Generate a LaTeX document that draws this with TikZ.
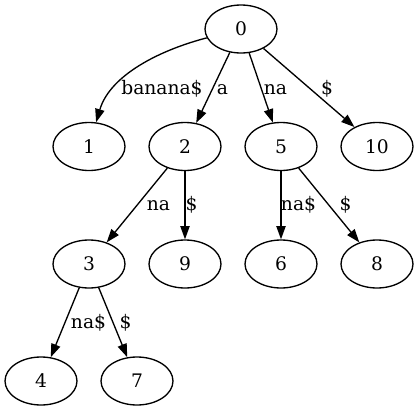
\documentclass[tikz,border=0pt]{standalone}
\usepackage{fontspec}
\setmainfont{DejaVu Serif}
\usetikzlibrary{shapes.geometric,arrows.meta}
\tikzset{
  vertex/.style={draw,ellipse,line width=1pt,minimum width=54pt,minimum height=36pt,inner sep=0pt,font=\fontsize{14pt}{17pt}\selectfont},
  lbl/.style={anchor=base,inner sep=0pt,font=\fontsize{14pt}{17pt}\selectfont},
  edge/.style={line width=1pt,-{Triangle[length=10pt,width=7pt]}}
}
\begin{document}
\begin{tikzpicture}[x=0.75pt,y=-0.75pt]
	\useasboundingbox (0,0) rectangle (419,411);
	% nodes
	\node[vertex] (n0) at (241,29) {0};
	\node[vertex] (n1) at (89,146.5) {1};
	\node[vertex] (n2) at (185,146.5) {2};
	\node[vertex] (n5) at (281,146.5) {5};
	\node[vertex] (n10) at (377,146.5) {10};
	\node[vertex] (n3) at (89,264) {3};
	\node[vertex] (n9) at (185,264) {9};
	\node[vertex] (n6) at (281,264) {6};
	\node[vertex] (n8) at (377,264) {8};
	\node[vertex] (n4) at (41,381) {4};
	\node[vertex] (n7) at (137,381) {7};
	% edges
	\draw[edge] (n0) .. controls (160,50) and (110,75) .. (n1);
	\draw[edge] (n0) -- (n2);
	\draw[edge] (n0) -- (n5);
	\draw[edge] (n0) -- (n10);
	\draw[edge] (n2) -- (n3);
	\draw[edge] (n2) -- (n9);
	\draw[edge] (n5) -- (n6);
	\draw[edge] (n5) -- (n8);
	\draw[edge] (n3) -- (n4);
	\draw[edge] (n3) -- (n7);
	% labels
	\node[lbl] (l01) at (162,94) {banana\$};
	\node[lbl] (l02) at (222.5,94) {a};
	\node[lbl] (l05) at (275.5,94) {na};
	\node[lbl] (l010) at (327,94) {\$};
	\node[lbl] (l23) at (158.5,210) {na};
	\node[lbl] (l29) at (191.5,210) {\$};
	\node[lbl] (l56) at (298.5,210) {na\$};
	\node[lbl] (l58) at (345.5,210) {\$};
	\node[lbl] (l34) at (88.5,328) {na\$};
	\node[lbl] (l37) at (125.5,328) {\$};
\end{tikzpicture}
\end{document}
